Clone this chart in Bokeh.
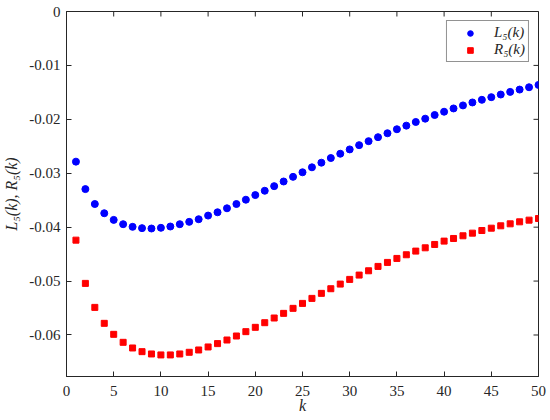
import math
from bokeh.plotting import figure
from bokeh.models import (ColumnDataSource, FixedTicker, CustomJSTickFormatter,
                          Range1d, Legend, LegendItem)
from bokeh.embed import file_html
from bokeh.resources import INLINE

k = list(range(1, 51))
L5 = [-0.02785, -0.03294, -0.03571, -0.03742, -0.03865, -0.03945, -0.03994, -0.04018, -0.04025, -0.04012,
      -0.03988, -0.03945, -0.03902, -0.03853, -0.03785, -0.03724, -0.03650, -0.03571, -0.03491, -0.03405,
      -0.03325, -0.03239, -0.03153, -0.03067, -0.02982, -0.02890, -0.02804, -0.02718, -0.02638, -0.02558,
      -0.02479, -0.02405, -0.02331, -0.02258, -0.02184, -0.02117, -0.02049, -0.01988, -0.01920, -0.01859,
      -0.01798, -0.01742, -0.01687, -0.01638, -0.01589, -0.01540, -0.01491, -0.01448, -0.01405, -0.01362]
R5 = [-0.04241, -0.05043, -0.05488, -0.05784, -0.05988, -0.06136, -0.06241, -0.06309, -0.06352, -0.06370,
      -0.06370, -0.06352, -0.06321, -0.06278, -0.06222, -0.06160, -0.06093, -0.06019, -0.05938, -0.05858,
      -0.05772, -0.05685, -0.05599, -0.05506, -0.05414, -0.05321, -0.05228, -0.05142, -0.05056, -0.04969,
      -0.04889, -0.04809, -0.04728, -0.04654, -0.04580, -0.04512, -0.04444, -0.04383, -0.04321, -0.04259,
      -0.04210, -0.04160, -0.04111, -0.04062, -0.04019, -0.03975, -0.03938, -0.03901, -0.03870, -0.03840]

x_ticks = [0, 5, 10, 15, 20, 25, 30, 35, 40, 45, 50]
y_ticks = [0, -0.01, -0.02, -0.03, -0.04, -0.05, -0.06]
x_min, x_max = 0, 50
y_min, y_max = -0.0677, 0

FONT = "Liberation Serif"
AX = "#262626"

src = ColumnDataSource(dict(k=k, L5=L5, R5=R5))

p = figure(width=548, height=416, output_backend="svg", toolbar_location=None,
           x_range=Range1d(x_min, x_max), y_range=Range1d(y_min, y_max),
           min_border_left=64, min_border_right=10, min_border_top=11, min_border_bottom=40)
p.grid.visible = False
p.outline_line_color = AX
p.outline_line_width = 1
p.background_fill_color = "white"
p.border_fill_color = "white"

# mirrored inward ticks on the top and right edges (Matlab box style)
p.scatter(x=x_ticks, y=[y_max] * len(x_ticks), marker="dash", size=10, angle=math.pi / 2,
          line_color=AX, line_width=1)
p.scatter(x=[x_max] * len(y_ticks), y=y_ticks, marker="dash", size=10,
          line_color=AX, line_width=1)

r1 = p.scatter("k", "L5", source=src, marker="circle", size=7,
               fill_color="#0000ff", line_color="#0000ff")
r2 = p.scatter("k", "R5", source=src, marker="square", size=6,
               fill_color="#ff0000", line_color="#ff0000")

def style(ax):
    ax.axis_line_color = AX
    ax.major_tick_line_color = AX
    ax.major_tick_in = 5
    ax.major_tick_out = 0
    ax.minor_tick_line_color = None
    ax.major_label_text_font = FONT
    ax.major_label_text_color = AX
    ax.major_label_text_font_size = "15px"

xa = p.xaxis[0]
xa.ticker = FixedTicker(ticks=x_ticks)
xa.formatter = CustomJSTickFormatter(code="return tick.toString();")
style(xa)
xa.major_label_standoff = 9
xa.axis_label = "k"
xa.axis_label_text_font = FONT
xa.axis_label_text_font_style = "italic"
xa.axis_label_text_font_size = "16px"
xa.axis_label_text_color = AX
xa.axis_label_standoff = -2

ya = p.yaxis[0]
ya.ticker = FixedTicker(ticks=y_ticks)
ya.formatter = CustomJSTickFormatter(code="return tick == 0 ? '0' : tick.toFixed(2);")
style(ya)
ya.major_label_standoff = 6
ya.axis_label = "L\u2085(k), R\u2085(k)"
ya.axis_label_text_font = FONT
ya.axis_label_text_font_style = "italic"
ya.axis_label_text_font_size = "16px"
ya.axis_label_text_color = AX
ya.axis_label_standoff = 6

legend = Legend(items=[LegendItem(label="L\u2085(k)", renderers=[r1]),
                       LegendItem(label="R\u2085(k)", renderers=[r2])],
                location="top_right")
legend.label_text_font = FONT
legend.label_text_font_style = "italic"
legend.label_text_font_size = "15px"
legend.label_text_color = AX
legend.border_line_color = AX
legend.border_line_width = 1
legend.background_fill_alpha = 1
legend.margin = 9
legend.padding = 3
legend.spacing = 0
legend.glyph_width = 40
legend.glyph_height = 14
legend.label_standoff = 4
legend.label_height = 14
p.add_layout(legend)

open("out.html", "w").write(file_html(p, INLINE))
